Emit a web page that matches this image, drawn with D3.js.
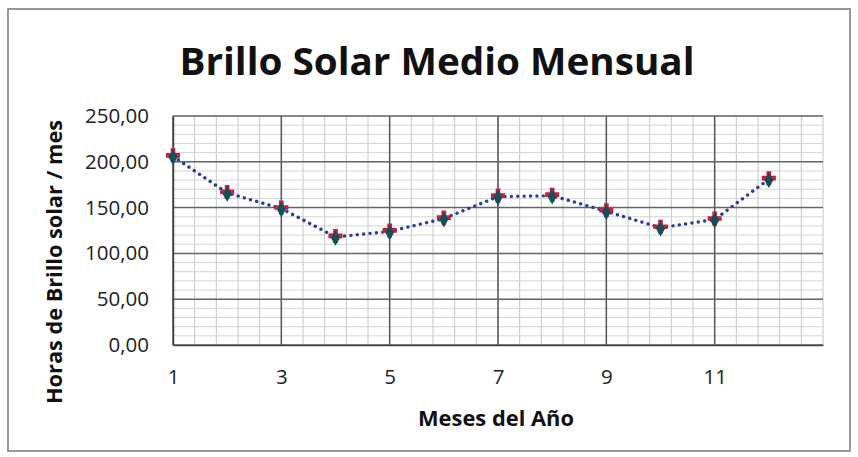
<!DOCTYPE html>
<html>
<head>
<meta charset="utf-8">
<script src="https://cdn.jsdelivr.net/npm/d3@7"></script>
<style>
  body { margin: 0; background: #fff; }
  svg { display: block; }
</style>
</head>
<body>
<div id="chart"></div>
<script>
// monthly values
var months = [1, 2, 3, 4, 5, 6, 7, 8, 9, 10, 11, 12];
var hours = [206, 166, 149, 118, 124, 138, 162, 163, 146, 128, 137, 181];
var xTicks = [1, 3, 5, 7, 9, 11];
var yTicks = [0, 50, 100, 150, 200, 250];

var W = 858, H = 457;
var margin = { top: 116, right: 35, bottom: 112, left: 173 };

var svg = d3.select("#chart")
  .append("svg")
  .attr("width", W)
  .attr("height", H);

// outer frame
svg.append("rect")
  .attr("x", 8).attr("y", 9)
  .attr("width", 842).attr("height", 442)
  .attr("fill", "#fff")
  .attr("stroke", "#777")
  .attr("stroke-width", 1.5);

var x = d3.scaleLinear().domain([1, 13]).range([margin.left, W - margin.right]);
var y = d3.scaleLinear().domain([0, 250]).range([H - margin.bottom, margin.top]);

var g = svg.append("g");

// minor grid
var minorX = d3.range(1, 13.001, 0.4);
var minorY = d3.range(0, 250.001, 10);
g.selectAll("line.mx").data(minorX).enter().append("line")
  .attr("class", "mx")
  .attr("x1", d => x(d)).attr("x2", d => x(d))
  .attr("y1", y(0)).attr("y2", y(250))
  .attr("stroke", "#c4c4c4").attr("stroke-width", 1);
g.selectAll("line.my").data(minorY).enter().append("line")
  .attr("class", "my")
  .attr("y1", d => y(d)).attr("y2", d => y(d))
  .attr("x1", x(1)).attr("x2", x(13))
  .attr("stroke", "#d4d4d4").attr("stroke-width", 1);

// major grid
g.selectAll("line.gx").data(xTicks).enter().append("line")
  .attr("class", "gx")
  .attr("x1", d => x(d)).attr("x2", d => x(d))
  .attr("y1", y(0)).attr("y2", y(250))
  .attr("stroke", "#555").attr("stroke-width", 1.5);
g.selectAll("line.gy").data(yTicks).enter().append("line")
  .attr("class", "gy")
  .attr("y1", d => y(d)).attr("y2", d => y(d))
  .attr("x1", x(1)).attr("x2", x(13))
  .attr("stroke", "#666").attr("stroke-width", 1.5);

// axes
var yAxis = d3.axisLeft(y).tickValues(yTicks).tickSize(0).tickPadding(24)
  .tickFormat(d => d3.format(".2f")(d).replace(".", ","));
var xAxis = d3.axisBottom(x).tickValues(xTicks).tickSize(0).tickPadding(24);

var ya = svg.append("g").attr("transform", "translate(" + margin.left + ",0)").call(yAxis);
var xa = svg.append("g").attr("transform", "translate(0," + y(0) + ")").call(xAxis);
[ya, xa].forEach(function (a) {
  a.select(".domain").attr("stroke", "#444").attr("stroke-width", 1.5);
  a.selectAll("text")
    .attr("font-family", "Open Sans, sans-serif")
    .attr("font-size", 20.5)
    .attr("fill", "#222");
});

// line
var line = d3.line().x((d, i) => x(months[i])).y(d => y(d));
svg.append("path")
  .datum(hours)
  .attr("d", line)
  .attr("fill", "none")
  .attr("stroke", "#2f3d9c")
  .attr("stroke-width", 3.4)
  .attr("stroke-linecap", "round")
  .attr("stroke-dasharray", "0.1 6.3");

// markers: red cross under a dark teal diamond
svg.selectAll("path.cross").data(hours).enter().append("path")
  .attr("class", "cross")
  .attr("transform", (d, i) => "translate(" + x(months[i]) + "," + (y(d) - 1) + ")")
  .attr("d", d3.symbol().type(d3.symbolCross).size(110))
  .attr("fill", "#c8203a");
svg.selectAll("path.diam").data(hours).enter().append("path")
  .attr("class", "diam")
  .attr("transform", (d, i) => "translate(" + x(months[i]) + "," + (y(d) + 1) + ")")
  .attr("d", d3.symbol().type(d3.symbolDiamond).size(70))
  .attr("fill", "#14505a");

// titles
svg.append("text")
  .attr("x", 437).attr("y", 75)
  .attr("text-anchor", "middle")
  .attr("font-family", "Open Sans, sans-serif")
  .attr("font-weight", "bold")
  .attr("font-size", 37)
  .attr("textLength", 515)
  .attr("lengthAdjust", "spacingAndGlyphs")
  .attr("fill", "#111")
  .text("Brillo Solar Medio Mensual");

svg.append("text")
  .attr("x", 496).attr("y", 426)
  .attr("text-anchor", "middle")
  .attr("font-family", "Open Sans, sans-serif")
  .attr("font-weight", "bold")
  .attr("font-size", 21)
  .attr("textLength", 156)
  .attr("lengthAdjust", "spacingAndGlyphs")
  .attr("fill", "#111")
  .text("Meses del Año");

svg.append("text")
  .attr("transform", "translate(62,262) rotate(-90)")
  .attr("text-anchor", "middle")
  .attr("font-family", "Open Sans, sans-serif")
  .attr("font-weight", "bold")
  .attr("font-size", 21)
  .attr("textLength", 284)
  .attr("lengthAdjust", "spacingAndGlyphs")
  .attr("fill", "#111")
  .text("Horas de Brillo solar / mes");
</script>
</body>
</html>
